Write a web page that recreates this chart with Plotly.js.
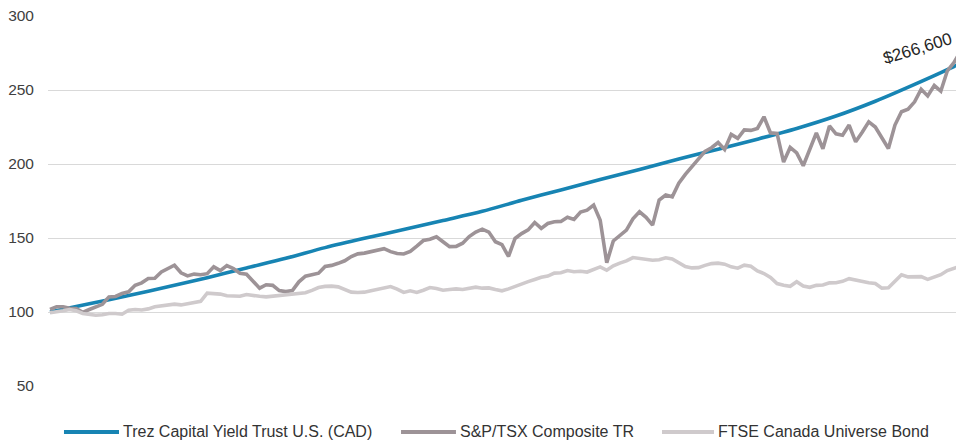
<!DOCTYPE html>
<html>
<head>
<meta charset="utf-8">
<script src="https://cdn.plot.ly/plotly-3.0.1.min.js"></script>
<style>html,body{margin:0;padding:0;background:#fff;}#chart{width:956px;height:447px;}</style>
</head>
<body>
<div id="chart"></div>
<script>
// Monthly categories (Feb 2013 ... Sep 2024)
var months = [];
for (var k = 0; k < 140; k++) {
  var y = 2013 + Math.floor((1 + k) / 12);
  var m = (1 + k) % 12 + 1;
  months.push(y + '-' + (m < 10 ? '0' + m : m));
}

var seriesNames = ['Trez Capital Yield Trust U.S. (CAD)', 'S&P/TSX Composite TR', 'FTSE Canada Universe Bond'];

// Trez Capital Yield Trust U.S. (CAD) – smooth line, read every 6 months
var trezMonths = ['2013-02','2013-08','2014-02','2014-08','2015-02','2015-08','2016-02','2016-08',
  '2017-02','2017-08','2018-02','2018-08','2019-02','2019-08','2020-02','2020-08','2021-02','2021-08',
  '2022-02','2022-08','2023-02','2023-08','2024-02','2024-08','2024-09'];
var trezValues = [100,105.5,111.2,117,123.2,129.8,136.3,143.5,149.8,155.7,161.8,168,175.5,182.5,
  189.5,196.3,203.4,210,216.8,224,232.4,242.4,253.8,265.8,268];

// S&P/TSX Composite TR – monthly
var tsxValues = [101.8,103.5,103.5,102.5,102.3,99.8,101.7,103.5,105.2,110.2,110.5,112.5,113.6,118.1,119.7,122.6,122.8,127.1,129.4,131.6,
  126.5,124.4,125.6,125.2,125.9,130.5,128,131.4,129.4,126.2,125.5,121,116.1,118.4,118,114.5,113.8,114.5,120.4,124.2,
  125.5,126.2,130.8,131.5,132.9,134.6,137.5,139.3,139.8,140.6,142,142.8,140.8,139.5,139.2,141,144.5,148.3,149.2,150.8,
  147.5,144.2,144.3,146.5,151,154,156,154,147.5,145.5,137.5,149.7,153,155.5,160.5,156.5,159.8,161,161.2,164,
  162.5,167.5,168.8,172.2,162,133.3,148,152,155.3,163,167.7,164,158.7,175.6,179,177.8,187,193,198,203,
  208.5,211,214.5,209.8,220,217.3,223,222.7,224,231.9,221,220.7,201.3,211.2,207.5,198.8,210,221,210.3,225.7,
  220.4,219.5,226.3,215,221.5,228.5,225,217.5,210.5,226.3,235.3,237,242,250.5,246,253,249.2,263,268.5,276];

// FTSE Canada Universe Bond – monthly
var bondValues = [99.5,99.9,100.8,101.7,100.8,99,98.3,97.8,98.1,99,99,98.5,101.2,101.7,101.4,102.1,103.5,103.9,104.6,105.3,
  104.8,105.7,106.8,107.2,112.7,112.7,112.1,111,111.1,110.6,111.8,111,110.6,110.2,110.7,111.4,112,112.3,112.5,113,
  114.6,116.5,117.3,117.5,117,115,113.4,113.2,113.4,114.3,115.3,116.3,117.2,115.5,113.2,114.3,113.2,114.7,116.5,115.9,
  114.7,115.2,115.6,115.2,116.3,116.8,116.1,116.3,115.2,114.3,115.6,117.4,118.8,120.5,122,123.5,124.3,126.3,126.5,128,
  127.2,127.5,127,128.8,130.5,128.2,131.2,133,134.5,136.8,136.3,135.6,135,135.3,136.6,135.8,133.1,130.7,129.8,130,
  131.5,132.7,133,132.3,130.5,129.6,131.6,130.9,127.8,126,123.3,119.2,118.1,117.4,120.5,117.6,116.7,118,118.2,119.7,
  119.8,120.7,122.5,121.5,120.8,119.8,119.2,116.1,116.4,120.8,125.2,123.7,123.9,123.9,122,123.9,125.2,128,129.8,131];

var yTicks = [50, 100, 150, 200, 250, 300];
var endLabel = '$266,600';

var colors = ['#1784b3', '#9d9397', '#cfcacc'];
var font = 'Liberation Sans, Arial, sans-serif';

var traces = [
  {x: trezMonths, y: trezValues, name: seriesNames[0], type: 'scatter', mode: 'lines',
   line: {color: colors[0], width: 3.6, shape: 'spline', smoothing: 0.8}, hoverinfo: 'skip'},
  {x: months, y: tsxValues, name: seriesNames[1], type: 'scatter', mode: 'lines',
   line: {color: colors[1], width: 3.6}, hoverinfo: 'skip'},
  {x: months, y: bondValues, name: seriesNames[2], type: 'scatter', mode: 'lines',
   line: {color: colors[2], width: 3.6}, hoverinfo: 'skip'}
];

// custom legend (long line samples like the reference)
var legendY = -0.124;
var legX = [[0.0176, 0.0782, 0.0805], [0.3888, 0.4493, 0.4516], [0.6762, 0.7335, 0.7358]];
var shapes = [], annotations = [];
for (var s = 0; s < 3; s++) {
  shapes.push({type: 'line', xref: 'paper', yref: 'paper', x0: legX[s][0], x1: legX[s][1],
    y0: legendY, y1: legendY, line: {color: colors[s], width: 4}});
  annotations.push({xref: 'paper', yref: 'paper', x: legX[s][2], y: legendY, xanchor: 'left', yanchor: 'middle',
    text: seriesNames[s].replace('&', '&amp;'), showarrow: false, font: {family: font, size: 16, color: '#333333'}});
}
annotations.push({xref: 'paper', yref: 'paper', x: 0.958, y: 0.913, xanchor: 'center', yanchor: 'middle',
  text: endLabel, showarrow: false, textangle: -17, font: {family: font, size: 17, color: '#262626'}});

var layout = {
  width: 956, height: 447,
  margin: {l: 48, r: 0, t: 16, b: 61},
  paper_bgcolor: '#ffffff', plot_bgcolor: '#ffffff',
  showlegend: false,
  xaxis: {type: 'category', categoryorder: 'array', categoryarray: months,
    range: [-0.305, 138.32], showgrid: false, zeroline: false, showline: false,
    showticklabels: false, ticks: ''},
  yaxis: {range: [50, 300], tickvals: yTicks, ticktext: yTicks.map(String),
    showgrid: true, gridcolor: '#d9d9d9', gridwidth: 1, zeroline: false, showline: false,
    ticks: '', ticklabelstandoff: 13,
    tickfont: {family: font, size: 15.5, color: '#404040'}},
  shapes: shapes,
  annotations: annotations
};

Plotly.newPlot('chart', traces, layout, {displayModeBar: false, staticPlot: true});
</script>
</body>
</html>
